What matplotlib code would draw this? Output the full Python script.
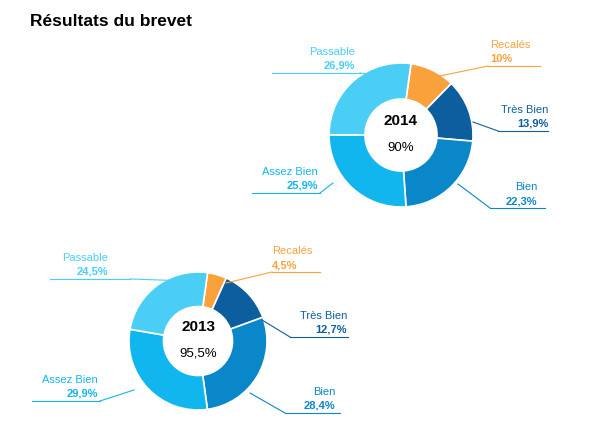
import matplotlib.pyplot as plt

plt.rcParams['font.family'] = ['Liberation Sans', 'DejaVu Sans']

categories = ["Recalés", "Très Bien", "Bien", "Assez Bien", "Passable"]
values_2014 = [10.0, 13.9, 22.3, 25.9, 26.9]
values_2013 = [4.5, 12.7, 28.4, 29.9, 24.5]
labels_2014 = ["10%", "13,9%", "22,3%", "25,9%", "26,9%"]
labels_2013 = ["4,5%", "12,7%", "28,4%", "29,9%", "24,5%"]
couleurs = ["#f9a23c", "#0d5e9e", "#0a87c9", "#12b6ef", "#4acef6"]

fig = plt.figure(figsize=(5.99, 4.37), dpi=100)
ax = fig.add_axes([0, 0, 1, 1])
ax.set_xlim(0, 599)
ax.set_ylim(437, 0)
ax.set_aspect("equal")
ax.axis("off")

ax.text(30, 22, "Résultats du brevet", fontsize=12.5, fontweight="bold", va="center")


def donut(cx, cy, r, valeurs, annee, taux, etiquettes, positions):
    # pie is drawn with flipped y axis, so counterclock=True looks clockwise
    ax.pie(valeurs, colors=couleurs, center=(cx, cy), radius=r, startangle=-82,
           counterclock=True, frame=True,
           wedgeprops=dict(width=r * 0.5, edgecolor="white", linewidth=1.2))
    ax.text(cx, cy - 14, annee, fontsize=11, fontweight="bold", ha="center", va="center")
    ax.text(cx, cy + 13, taux, fontsize=9.5, ha="center", va="center")
    for i, (tx, ty, ha, x0, x1, px, py) in enumerate(positions):
        c = couleurs[i]
        ax.text(tx, ty, categories[i], fontsize=8, color=c, ha=ha, va="center")
        ax.text(tx, ty + 14, etiquettes[i], fontsize=8, color=c, fontweight="bold", ha=ha, va="center")
        uy = ty + 21
        ax.plot([x0, x1], [uy, uy], color=c, lw=0.8)
        near = x1 if abs(px - x1) < abs(px - x0) else x0
        ax.plot([near, px], [uy, py], color=c, lw=0.8)


donut(401, 135, 72, values_2014, "2014", "90%", labels_2014, [
    (490, 45, "left", 488, 540, 440, 76),
    (548, 110, "right", 498, 548, 473, 122),
    (537, 187, "right", 490, 545, 458, 184),
    (318, 172, "right", 252, 320, 333, 183),
    (355, 52, "right", 272, 360, 375, 75),
])
donut(198, 341, 69, values_2013, "2013", "95,5%", labels_2013, [
    (272, 251, "left", 272, 320, 226, 283),
    (347, 316, "right", 290, 348, 262, 320),
    (335, 392, "right", 285, 340, 250, 393),
    (98, 380, "right", 32, 100, 134, 390),
    (108, 258, "right", 50, 130, 190, 281),
])
ax.set_xlim(0, 599)
ax.set_ylim(437, 0)
ax.axis("off")

fig.savefig("out.png", dpi=100)
